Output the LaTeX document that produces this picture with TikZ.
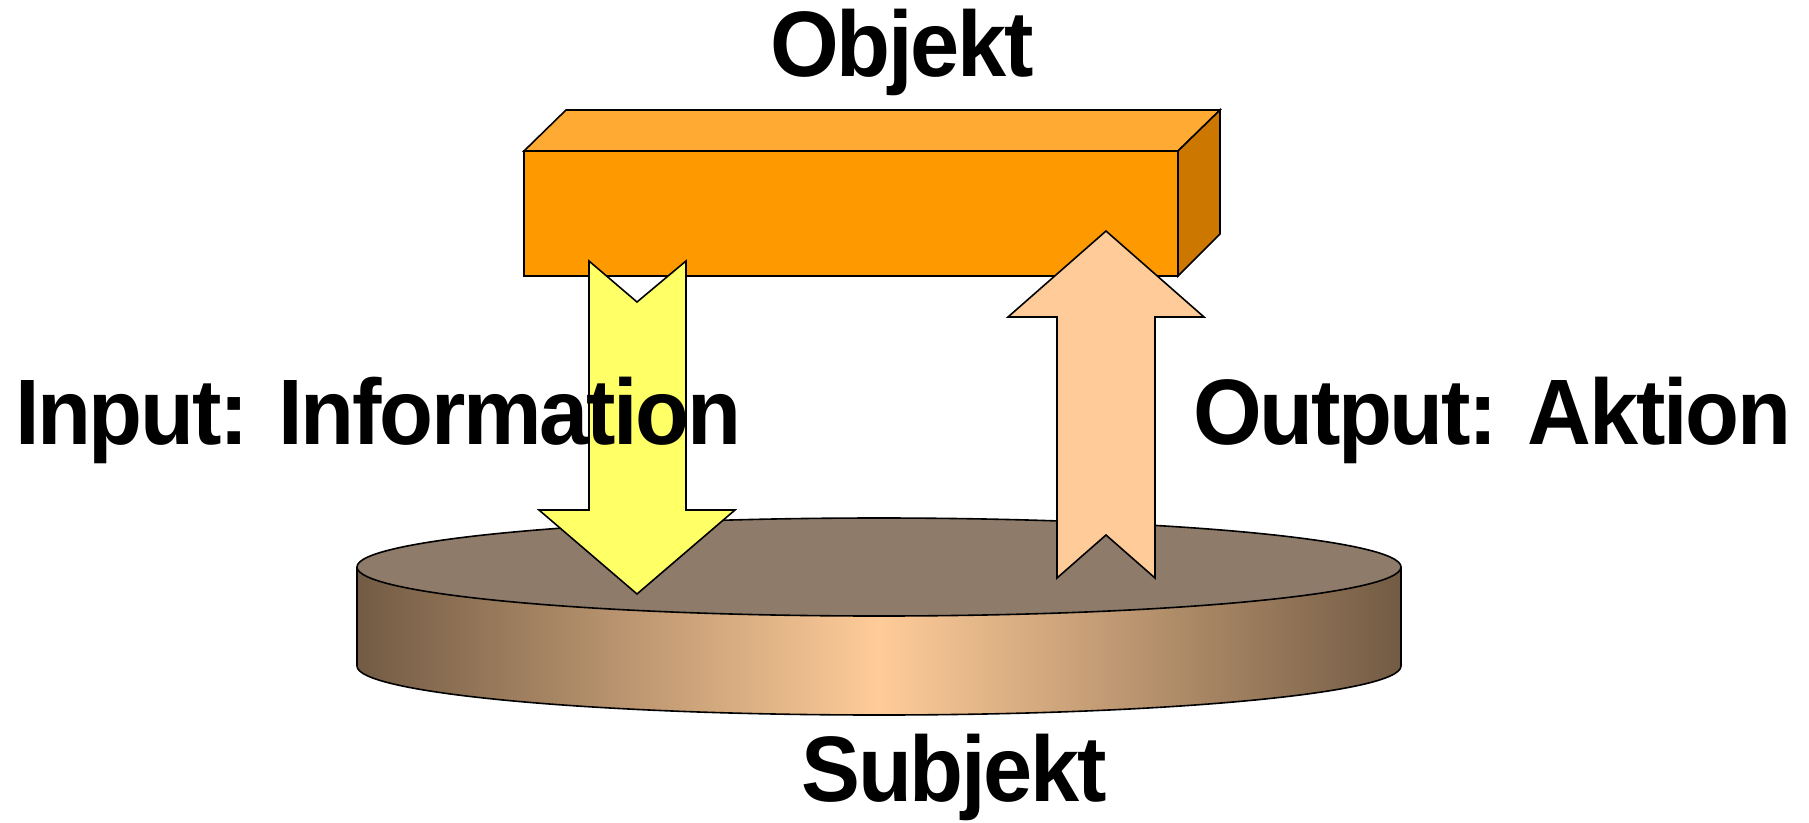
\documentclass[tikz,border=0pt]{standalone}
\usepackage{fontspec}
\setmainfont{Liberation Sans}[FakeStretch=0.95,LetterSpace=-2.5]
\begin{document}
\begin{tikzpicture}[x=1pt,y=-1pt,
  edge/.style={draw=black,line width=1.6pt,line join=miter},
  lbl/.style={font=\fontsize{93}{105}\selectfont\bfseries,anchor=base,inner sep=0pt}]
\definecolor{boxfront}{HTML}{FF9900}
\definecolor{boxtop}{HTML}{FFAA33}
\definecolor{boxside}{HTML}{CC7700}
\definecolor{disctop}{HTML}{8E7B6A}
\definecolor{discdark}{HTML}{725B44}
\definecolor{disclight}{HTML}{FFCC99}
\definecolor{inyellow}{HTML}{FFFF66}
\definecolor{outpeach}{HTML}{FFCC99}
\useasboundingbox (0,0) rectangle (1809,822);
% disc
\shade[left color=discdark,right color=discdark,middle color=disclight]
  (357,567) -- (357,666) arc[start angle=180,end angle=360,x radius=522,y radius=-49] -- (1401,567) -- cycle;
\draw[edge] (357,567) -- (357,666) arc[start angle=180,end angle=360,x radius=522,y radius=-49] -- (1401,567);
\draw[edge,fill=disctop] (879,567) ellipse[x radius=522,y radius=49];
% box
\draw[edge,fill=boxtop] (524,151) -- (566,110) -- (1220,110) -- (1178,151) -- cycle;
\draw[edge,fill=boxside] (1178,151) -- (1220,110) -- (1220,234) -- (1178,276) -- cycle;
\draw[edge,fill=boxfront] (524,151) rectangle (1178,276);
% input arrow
\draw[edge,fill=inyellow] (589,261) -- (637,302) -- (686,261) -- (686,510) -- (735,510)
  -- (637,594) -- (539,510) -- (589,510) -- cycle;
% output arrow
\draw[edge,fill=outpeach] (1057,578) -- (1106,535) -- (1155,578) -- (1155,317) -- (1204,317)
  -- (1106,231) -- (1008,317) -- (1057,317) -- cycle;
% labels
\node[lbl] (obj) at (902,76) {Objekt};
\node[lbl] (inp) at (378,444) {Input: Information};
\node[lbl] (out) at (1492,444) {Output: Aktion};
\node[lbl] (sub) at (954,801) {Subjekt};
\end{tikzpicture}
\end{document}
